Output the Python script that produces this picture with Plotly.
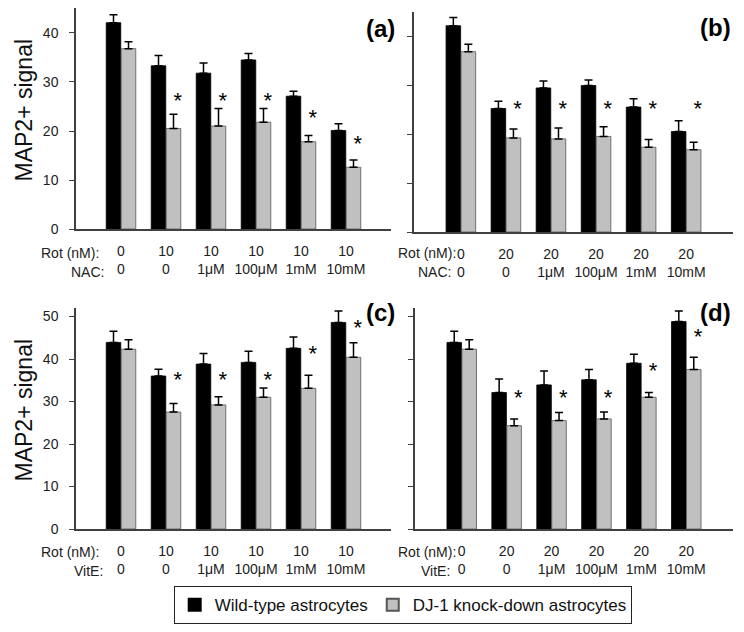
import plotly.graph_objects as go

# page body adds an 8px margin: figure occupies the window minus that offset
OFF = 8
W, H = 744 - OFF, 632 - OFF

# ---------------- data ----------------
rot_10 = ["0", "10", "10", "10", "10", "10"]
rot_20 = ["0", "20", "20", "20", "20", "20"]
conc = ["0", "0", "1μM", "100μM", "1mM", "10mM"]

# (a) NAC, Rot 10 nM
a_wt = [42.1, 33.3, 31.8, 34.5, 27.1, 20.1]
a_wt_err = [1.6, 2.1, 2.1, 1.3, 1.0, 1.4]
a_kd = [36.8, 20.5, 21.0, 21.8, 17.8, 12.6]
a_kd_err = [1.4, 2.9, 3.6, 2.8, 1.3, 1.5]
a_star = [None, 26.6, 26.6, 26.6, 23.2, 17.8]

# (b) NAC, Rot 20 nM
b_wt = [42.1, 25.2, 29.4, 29.9, 25.5, 20.5]
b_wt_err = [1.7, 1.5, 1.4, 1.1, 1.7, 2.2]
b_kd = [36.8, 19.2, 19.0, 19.5, 17.3, 16.8]
b_kd_err = [1.5, 1.8, 2.2, 2.0, 1.6, 1.5]
b_star = [None, 25.6, 25.6, 25.6, 25.6, 25.6]

# (c) VitE, Rot 10 nM
c_wt = [43.9, 36.0, 38.8, 39.2, 42.5, 48.6]
c_wt_err = [2.6, 1.6, 2.5, 2.6, 2.7, 2.7]
c_kd = [42.3, 27.5, 29.2, 31.0, 33.1, 40.4]
c_kd_err = [2.2, 2.0, 1.9, 2.2, 3.1, 3.4]
c_star = [None, 35.7, 35.7, 35.7, 41.8, 48.0]

# (d) VitE, Rot 20 nM
d_wt = [43.9, 32.1, 33.9, 35.1, 39.0, 48.8]
d_wt_err = [2.6, 3.2, 3.3, 2.4, 2.1, 2.5]
d_kd = [42.3, 24.3, 25.5, 25.9, 31.0, 37.5]
d_kd_err = [2.2, 1.6, 1.9, 1.6, 1.1, 2.9]
d_star = [None, 31.4, 31.4, 31.4, 37.7, 45.8]

series_names = ["Wild-type astrocytes", "DJ-1 knock-down astrocytes"]
panel_labels = ["(a)", "(b)", "(c)", "(d)"]
row_labels_top = ["Rot (nM):", "NAC:"]
row_labels_bot = ["Rot (nM):", "VitE:"]
y_title = "MAP2+ signal"

FONT = "Arial, Liberation Sans, sans-serif"
BLACK = "#000000"
GRAY = "#c0c0c0"
AX = "#404040"


def fx(px):
    return (px - OFF) / W


def fy(py):
    return 1 - (py - OFF) / H


panels = [
    dict(wt=a_wt, wte=a_wt_err, kd=a_kd, kde=a_kd_err, star=a_star, rot=rot_10),
    dict(wt=b_wt, wte=b_wt_err, kd=b_kd, kde=b_kd_err, star=b_star, rot=rot_20),
    dict(wt=c_wt, wte=c_wt_err, kd=c_kd, kde=c_kd_err, star=c_star, rot=rot_10),
    dict(wt=d_wt, wte=d_wt_err, kd=d_kd, kde=d_kd_err, star=d_star, rot=rot_20),
]

# layout geometry (window pixels)
geo = [
    dict(x0=76, x1=391, base=229, top=8, ymax=45.1, xr=[-1.0, 6.0]),
    dict(x0=414, x1=733, base=232, top=12, ymax=44.9, xr=[-1.04, 6.04]),
    dict(x0=76, x1=391, base=529, top=308, ymax=52.0, xr=[-1.0, 6.0]),
    dict(x0=415, x1=733, base=529, top=308, ymax=52.0, xr=[-1.04, 6.04]),
]

STAR_DROP_PX = 4  # text box centre vs. glyph centre

fig = go.Figure()
idx = list(range(6))

for p, (d, g) in enumerate(zip(panels, geo)):
    sx = "" if p == 0 else str(p + 1)
    xa, ya = "x" + sx, "y" + sx
    ppu = (g["base"] - g["top"]) / g["ymax"]
    fig.add_trace(go.Bar(
        x=idx, y=d["wt"], name=series_names[0], legendgroup="wt", showlegend=(p == 0),
        marker=dict(color=BLACK, line=dict(color=BLACK, width=0.8)),
        error_y=dict(type="data", symmetric=False, array=d["wte"], arrayminus=[0] * 6,
                     color=BLACK, thickness=1.5, width=4),
        xaxis=xa, yaxis=ya))
    fig.add_trace(go.Bar(
        x=idx, y=d["kd"], name=series_names[1], legendgroup="kd", showlegend=(p == 0),
        marker=dict(color=GRAY, line=dict(color="#555555", width=0.8)),
        error_y=dict(type="data", symmetric=False, array=d["kde"], arrayminus=[0] * 6,
                     color=BLACK, thickness=1.5, width=4),
        xaxis=xa, yaxis=ya))
    fig.add_trace(go.Scatter(
        x=[i + 0.26 for i in idx],
        y=[None if s is None else s - STAR_DROP_PX / ppu for s in d["star"]],
        mode="text",
        text=["" if s is None else "*" for s in d["star"]],
        textposition="middle center",
        textfont=dict(family=FONT, size=22, color=BLACK),
        showlegend=False, hoverinfo="skip", xaxis=xa, yaxis=ya))

    is_left = p in (0, 2)
    ticktext = [f"{r}<br>{c}" for r, c in zip(d["rot"], conc)]
    fig.layout["xaxis" + sx] = dict(
        domain=[fx(g["x0"]), fx(g["x1"])], range=g["xr"], anchor=ya,
        tickmode="array", tickvals=idx, ticktext=ticktext, ticks="",
        ticklabelstandoff=8, automargin=False,
        tickfont=dict(family=FONT, size=14, color="#222222"),
        showline=True, linecolor=AX, linewidth=1.5, showgrid=False, zeroline=False,
        fixedrange=True)
    fig.layout["yaxis" + sx] = dict(
        domain=[fy(g["base"]), fy(g["top"])], range=[0, g["ymax"]], anchor=xa,
        dtick=10, tick0=0, ticks="outside", ticklen=5, tickwidth=1, tickcolor=AX,
        showticklabels=is_left, ticklabelstandoff=8, automargin=False,
        tickfont=dict(family=FONT, size=14, color="#222222"),
        showline=True, linecolor=AX, linewidth=1.5, showgrid=False, zeroline=False,
        fixedrange=True)

annotations = []
# panel labels
lab_pos = [(397, 29), (733, 27), (397, 312), (733, 312)]
for t, (px, py) in zip(panel_labels, lab_pos):
    annotations.append(dict(text=t, xref="paper", yref="paper",
                            x=fx(px), y=fy(py), xanchor="right", yanchor="middle",
                            showarrow=False,
                            font=dict(family=FONT, size=24, color=BLACK, weight="bold")))
# y titles
for py in (110, 410):
    annotations.append(dict(text=y_title, xref="paper", yref="paper",
                            x=fx(8.5), y=fy(py), xanchor="left", yanchor="middle",
                            textangle=-90, showarrow=False,
                            font=dict(family=FONT, size=23, color="#111111")))
# row labels
row_specs = [
    (row_labels_top, [(101, 253), (106, 272)]),
    (row_labels_top, [(458, 253), (453, 272)]),
    (row_labels_bot, [(101, 552), (105, 571)]),
    (row_labels_bot, [(458, 552), (452, 571)]),
]
for labels, poss in row_specs:
    for t, (px, py) in zip(labels, poss):
        annotations.append(dict(text=t, xref="paper", yref="paper",
                                x=fx(px), y=fy(py), xanchor="right", yanchor="middle",
                                showarrow=False, font=dict(family=FONT, size=14, color="#222222")))

fig.update_layout(
    width=W, height=H,
    margin=dict(l=0, r=0, t=0, b=0, pad=0, autoexpand=False),
    paper_bgcolor="white", plot_bgcolor="white",
    barmode="group", bargap=0.333, bargroupgap=0.03,
    annotations=annotations,
    showlegend=True,
    legend=dict(orientation="h", x=fx(403), y=fy(605), xanchor="center", yanchor="middle",
                bordercolor="#222222", borderwidth=1.2, bgcolor="white",
                font=dict(family=FONT, size=17, color="#111111"),
                itemsizing="constant", traceorder="normal"),
    font=dict(family=FONT),
)

fig.write_html("out.html")
